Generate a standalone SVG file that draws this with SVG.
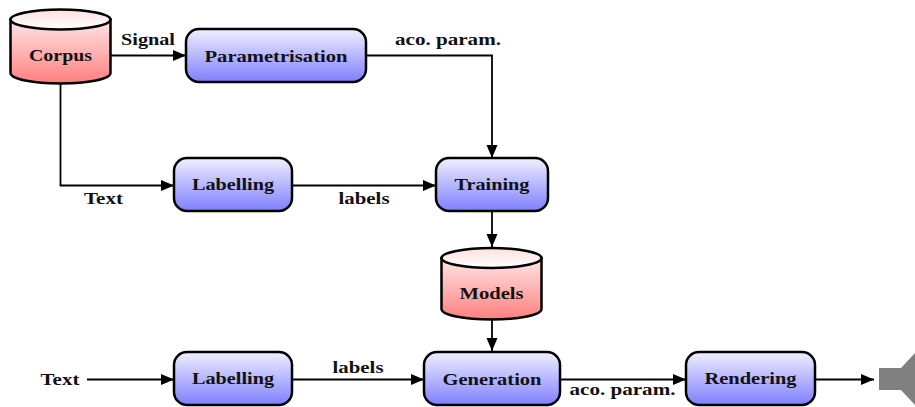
<svg xmlns="http://www.w3.org/2000/svg" width="915" height="407" viewBox="0 0 915 407">
<style>
.n{stroke:#000;stroke-width:2.5;fill:url(#blue)}
.c{stroke:#000;stroke-width:2.5;fill:url(#red)}
.t{stroke:#000;stroke-width:2.5;fill:url(#top)}
.e{stroke:#000;stroke-width:1.8;fill:none}
text{font-family:"Liberation Serif","Times New Roman",serif;font-weight:bold;font-size:17px;fill:#111;text-anchor:middle}
</style>
<defs>
<linearGradient id="blue" x1="0" y1="0" x2="0" y2="1"><stop offset="0" stop-color="#f0f0ff"/><stop offset="1" stop-color="#7f7fff"/></linearGradient>
<linearGradient id="red" x1="0" y1="0" x2="0" y2="1"><stop offset="0" stop-color="#ffe6e6"/><stop offset="1" stop-color="#ff7f7f"/></linearGradient>
<linearGradient id="top" x1="0" y1="0" x2="0" y2="1"><stop offset="0" stop-color="#ffe0e0"/><stop offset="1" stop-color="#ffffff"/></linearGradient>
<marker id="a" markerUnits="userSpaceOnUse" markerWidth="14" markerHeight="12" refX="13" refY="6" orient="auto"><path d="M0 0.500L13 6L0 11.500Z" fill="#000"/></marker>
</defs>
<g id="connectors">
<path class="e" d="M110 55.500H186" marker-end="url(#a)"/>
<path class="e" d="M366 55.500H492V158" marker-end="url(#a)"/>
<path class="e" d="M60.500 83V185.500H174" marker-end="url(#a)"/>
<path class="e" d="M292 185.500H436" marker-end="url(#a)"/>
<path class="e" d="M492 211V247" marker-end="url(#a)"/>
<path class="e" d="M492 319V351" marker-end="url(#a)"/>
<path class="e" d="M87 379.500H174" marker-end="url(#a)"/>
<path class="e" d="M292 379.500H424" marker-end="url(#a)"/>
<path class="e" d="M560 379.500H686" marker-end="url(#a)"/>
<path class="e" d="M815 379.500H874" marker-end="url(#a)"/>
<text x="148" y="45" textLength="54" lengthAdjust="spacingAndGlyphs">Signal</text>
<text x="448" y="45" textLength="106" lengthAdjust="spacingAndGlyphs">aco. param.</text>
<text x="103.500" y="204" textLength="39" lengthAdjust="spacingAndGlyphs">Text</text>
<text x="364" y="204" textLength="51" lengthAdjust="spacingAndGlyphs">labels</text>
<text x="358" y="373" textLength="51" lengthAdjust="spacingAndGlyphs">labels</text>
<text x="622.500" y="395" textLength="106" lengthAdjust="spacingAndGlyphs">aco. param.</text>
</g>
<g id="corpus">
<path class="c" d="M10.500 19.500V73C10.500 79 33 83.500 60.500 83.500S110.500 79 110.500 73V19.500Z"/>
<ellipse class="t" cx="60.500" cy="19.500" rx="50" ry="10"/>
<text x="60.500" y="60.500" textLength="63" lengthAdjust="spacingAndGlyphs">Corpus</text>
</g>
<g id="parametrisation">
<rect class="n" x="186" y="29" width="180" height="53" rx="13"/>
<text x="276" y="61.500" textLength="143" lengthAdjust="spacingAndGlyphs">Parametrisation</text>
</g>
<g id="labelling1">
<rect class="n" x="174" y="158" width="118" height="53" rx="13"/>
<text x="233" y="190" textLength="82" lengthAdjust="spacingAndGlyphs">Labelling</text>
</g>
<g id="training">
<rect class="n" x="436" y="158" width="112" height="53" rx="13"/>
<text x="492" y="190" textLength="75" lengthAdjust="spacingAndGlyphs">Training</text>
</g>
<g id="models">
<path class="c" d="M441.500 258V309C441.500 315 464 319.500 491.500 319.500S541.500 315 541.500 309V258Z"/>
<ellipse class="t" cx="491.500" cy="258" rx="50" ry="10"/>
<text x="491.500" y="299" textLength="64" lengthAdjust="spacingAndGlyphs">Models</text>
</g>
<g id="text-input"><text x="60" y="385" textLength="39" lengthAdjust="spacingAndGlyphs">Text</text></g>
<g id="labelling2">
<rect class="n" x="174" y="352" width="118" height="53" rx="13"/>
<text x="233" y="384" textLength="82" lengthAdjust="spacingAndGlyphs">Labelling</text>
</g>
<g id="generation">
<rect class="n" x="424" y="352" width="136" height="53" rx="13"/>
<text x="492" y="385" textLength="99" lengthAdjust="spacingAndGlyphs">Generation</text>
</g>
<g id="rendering">
<rect class="n" x="686" y="352" width="129" height="53" rx="13"/>
<text x="750.500" y="384" textLength="92" lengthAdjust="spacingAndGlyphs">Rendering</text>
</g>
<g id="speaker">
<path d="M879 368H901L915 353V405L901 390H879Z" fill="#808080"/>
</g>
</svg>
